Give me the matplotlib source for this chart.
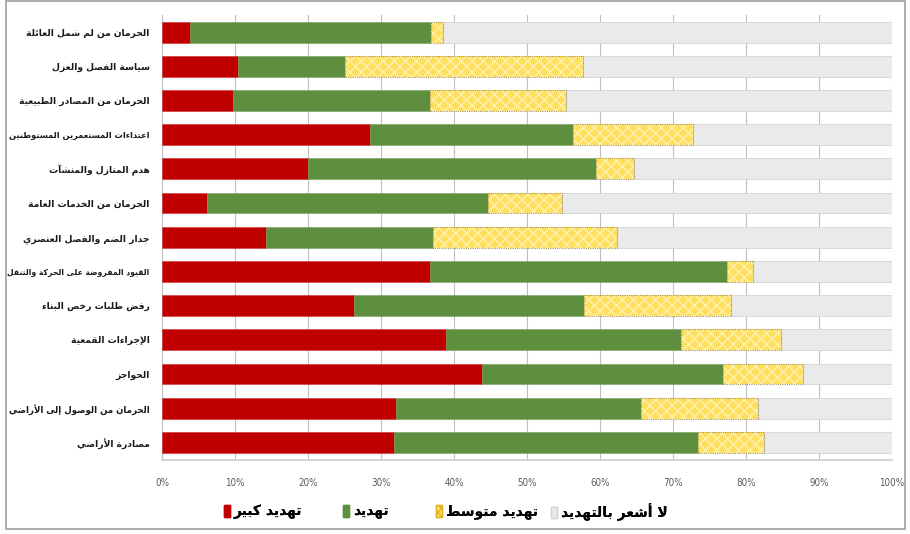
import matplotlib.pyplot as plt
from matplotlib.patches import Patch, Rectangle

# Threat categories, top to bottom
categories = [
    'الحرمان من لم شمل العائلة',
    'سياسة الفصل والعزل',
    'الحرمان من المصادر الطبيعية',
    'اعتداءات المستعمرين المستوطنين',
    'هدم المنازل والمنشآت',
    'الحرمان من الخدمات العامة',
    'جدار الضم والفصل العنصري',
    'القيود المفروضة على الحركة والتنقل',
    'رفض طلبات رخص البناء',
    'الإجراءات القمعية',
    'الحواجز',
    'الحرمان من الوصول إلى الأراضي',
    'مصادرة الأراضي',
]

# Share of respondents (%)
severe = [3.9, 10.4, 9.7, 28.5, 20.0, 6.2, 14.3, 36.7, 26.3, 38.9, 43.9, 32.1, 31.8]
threat = [33.0, 14.6, 27.0, 27.8, 39.5, 38.5, 22.8, 40.7, 31.5, 32.2, 33.0, 33.5, 41.6]
moderate = [1.6, 32.7, 18.6, 16.5, 5.2, 10.1, 25.2, 3.5, 20.1, 13.7, 10.9, 16.0, 9.1]
no_threat = [61.5, 42.3, 44.7, 27.2, 35.3, 45.2, 37.7, 19.1, 22.1, 15.2, 12.2, 18.4, 17.5]

series_names = ['تهديد كبير', 'تهديد', 'تهديد متوسط', 'لا أشعر بالتهديد']
x_ticks = [0, 10, 20, 30, 40, 50, 60, 70, 80, 90, 100]


# --- minimal Arabic shaping (matplotlib has no RTL / joining support) ---
# letter -> (isolated presentation form, number of forms)
FORMS = {
    'ء': (0xFE80, 1), 'آ': (0xFE81, 2), 'أ': (0xFE83, 2), 'ؤ': (0xFE85, 2),
    'إ': (0xFE87, 2), 'ئ': (0xFE89, 4), 'ا': (0xFE8D, 2), 'ب': (0xFE8F, 4),
    'ة': (0xFE93, 2), 'ت': (0xFE95, 4), 'ث': (0xFE99, 4), 'ج': (0xFE9D, 4),
    'ح': (0xFEA1, 4), 'خ': (0xFEA5, 4), 'د': (0xFEA9, 2), 'ذ': (0xFEAB, 2),
    'ر': (0xFEAD, 2), 'ز': (0xFEAF, 2), 'س': (0xFEB1, 4), 'ش': (0xFEB5, 4),
    'ص': (0xFEB9, 4), 'ض': (0xFEBD, 4), 'ط': (0xFEC1, 4), 'ظ': (0xFEC5, 4),
    'ع': (0xFEC9, 4), 'غ': (0xFECD, 4), 'ف': (0xFED1, 4), 'ق': (0xFED5, 4),
    'ك': (0xFED9, 4), 'ل': (0xFEDD, 4), 'م': (0xFEE1, 4), 'ن': (0xFEE5, 4),
    'ه': (0xFEE9, 4), 'و': (0xFEED, 2), 'ى': (0xFEEF, 2), 'ي': (0xFEF1, 4),
}
LAM_ALEF = {'آ': 0xFEF5, 'أ': 0xFEF7, 'إ': 0xFEF9, 'ا': 0xFEFB}


def shape(text):
    tokens = []
    i = 0
    while i < len(text):
        c = text[i]
        if c == 'ل' and i + 1 < len(text) and text[i + 1] in LAM_ALEF:
            tokens.append((LAM_ALEF[text[i + 1]], 2))
            i += 2
            continue
        if c in FORMS:
            tokens.append(FORMS[c])
        else:
            tokens.append((c, 0))
        i += 1
    out = []
    for k, (base, n) in enumerate(tokens):
        if n == 0:
            out.append(base)
            continue
        joins_prev = n >= 2 and k > 0 and tokens[k - 1][1] == 4
        joins_next = n == 4 and k + 1 < len(tokens) and tokens[k + 1][1] >= 2
        if joins_prev and joins_next:
            off = 3
        elif joins_prev:
            off = 1
        elif joins_next:
            off = 2
        else:
            off = 0
        out.append(chr(base + off))
    return ''.join(reversed(out))


RED = '#C00000'
GREEN = '#5E8F3F'
YELLOW = '#FFDF5E'
YELLOW_HATCH = '#FFF2B0'
GREY = '#EAEAEA'
plt.rcParams['hatch.linewidth'] = 1.0

fig = plt.figure(figsize=(9.1, 5.34), dpi=100)
ax = fig.add_axes([162 / 910, 1 - 459.5 / 534, 730 / 910, 444.5 / 534])

y = list(range(len(categories)))
h = 0.61
left2 = [a + b for a, b in zip(severe, threat)]
left3 = [a + b for a, b in zip(left2, moderate)]

ax.barh(y, severe, height=h, color=RED, edgecolor='#D03030', linewidth=0.4, zorder=3)
ax.barh(y, threat, left=severe, height=h, color=GREEN, edgecolor='#7AA060',
        linewidth=0.4, zorder=3)
ax.barh(y, moderate, left=left2, height=h, facecolor=YELLOW, edgecolor=YELLOW_HATCH,
        hatch='xxx', linewidth=0, zorder=3)
ax.barh(y, moderate, left=left2, height=h, fill=False, edgecolor='#A89458',
        linestyle=(0, (1, 1)), linewidth=0.8, zorder=4)
ax.barh(y, no_threat, left=left3, height=h, color=GREY, edgecolor='#D4D4D4',
        linewidth=0.6, zorder=3)

ax.set_xlim(0, 100)
ax.set_ylim(len(categories) - 0.5, -0.5)
ax.set_xticks(x_ticks)
ax.set_xticklabels([f'{t}%' for t in x_ticks], fontsize=7, color='#595959',
                   fontstretch='condensed')
ax.set_yticks(y)
ax.set_yticklabels([shape(c) for c in categories], fontsize=6.6,
                   fontweight='bold', color='#1A1A1A', family='DejaVu Sans')
ax.tick_params(axis='y', length=0, pad=9)
ax.tick_params(axis='x', length=0, pad=13)

# shrink any category label that would run past the left frame
fig.canvas.draw()
renderer = fig.canvas.get_renderer()
max_w = 140
for lbl in ax.get_yticklabels():
    w = lbl.get_window_extent(renderer).width
    if w > max_w:
        lbl.set_fontsize(lbl.get_fontsize() * max_w / w)

ax.grid(axis='x', color='#BFBFBF', linewidth=0.8, zorder=0)
for side in ('top', 'left', 'right'):
    ax.spines[side].set_visible(False)
ax.spines['bottom'].set_color('#C8CCD4')
ax.spines['bottom'].set_linewidth(1.2)

handles = [
    Patch(facecolor=RED, edgecolor=RED),
    Patch(facecolor=GREEN, edgecolor=GREEN),
    Patch(facecolor=YELLOW, edgecolor='#E0B020', hatch='xxxx'),
    Patch(facecolor=GREY, edgecolor='#D4D4D4'),
]
# one legend entry per series, marker first
legend_x = [224, 343, 436, 551]
for hdl, name, lx in zip(handles, series_names, legend_x):
    leg = fig.legend([hdl], [shape(name)], frameon=False,
                     loc='center left', bbox_to_anchor=(lx / 910, 1 - 512 / 534),
                     handlelength=0.45, handleheight=0.9, handletextpad=0.25,
                     borderaxespad=0, borderpad=0,
                     prop={'size': 10, 'weight': 'bold', 'family': 'DejaVu Sans'})
    fig.add_artist(leg)

# outer frame
fig.patches.append(Rectangle((6 / 910, 5 / 534), 899 / 910, 528 / 534,
                             transform=fig.transFigure, fill=False,
                             edgecolor='#A0A0A0', linewidth=1.2))

fig.savefig('out.png', dpi=100)
